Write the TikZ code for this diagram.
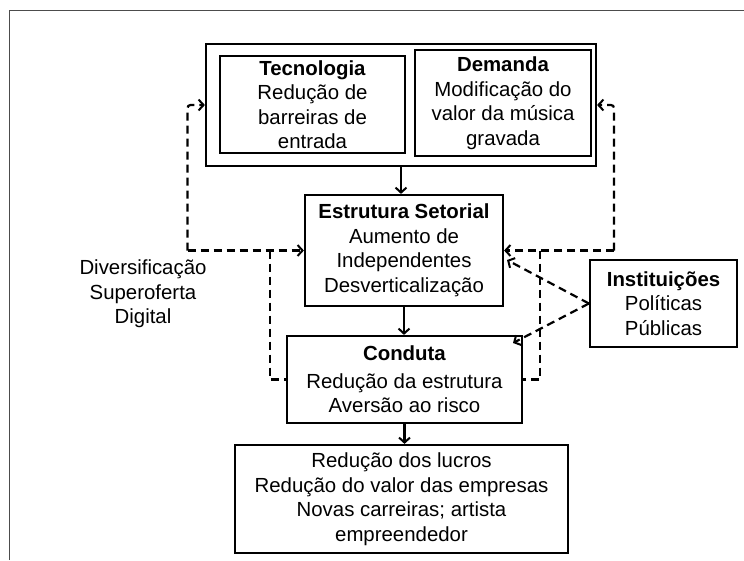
\documentclass[tikz,border=0pt]{standalone}
\usepackage{fontspec}
\setmainfont{Liberation Sans}
\usetikzlibrary{arrows.meta}
\begin{document}
\begin{tikzpicture}[x=1pt,y=-1pt,
  box/.style={draw,line width=2.2pt,rectangle,inner sep=0pt,align=center,
    font=\fontsize{20.4pt}{24.5pt}\selectfont},
  tip/.style={-{Straight Barb[length=5pt,width=11pt,line width=2pt]}},
  solidarrow/.style={line width=2.2pt,tip},
  dashline/.style={line width=2.2pt,dash pattern=on 8pt off 5pt},
  dasharrow/.style={dashline,tip},
  plain/.style={align=center,inner sep=0pt,font=\fontsize{20.4pt}{24.5pt}\selectfont}]
\useasboundingbox (0,0) rectangle (744,560);
\draw[line width=1.3pt,black!70] (9.5,560) -- (9.5,10.7) -- (744,10.7);
% boxes
\node[box,minimum width=390pt,minimum height=122pt] (outer) at (401,105) {};
\node[box,minimum width=185pt,minimum height=97pt] (tec) at (312.5,104.5)
  {\textbf{Tecnologia}\\Redução de\\barreiras de\\entrada};
\node[box,minimum width=176pt,minimum height=106pt] (dem) at (503,103)
  {\textbf{Demanda}\\Modificação do\\valor da música\\gravada};
\node[box,minimum width=198pt,minimum height=111pt] (est) at (404,250.5)
  {\textbf{Estrutura Setorial}\\Aumento de\\Independentes\\Desverticalização};
\node[box,minimum width=235pt,minimum height=87pt] (cond) at (404.5,379.5)
  {\textbf{Conduta}\\[3pt]Redução da estrutura\\Aversão ao risco};
\node[box,minimum width=147pt,minimum height=87pt] (inst) at (663.5,303.5)
  {\textbf{Instituições}\\Políticas\\Públicas};
\node[box,minimum width=333pt,minimum height=108pt] (res) at (401.5,499)
  {Redução dos lucros\\Redução do valor das empresas\\Novas carreiras; artista\\empreendedor};
\node[plain] (div) at (143,294) {Diversificação\\Superoferta\\Digital};
% solid arrows
\draw[solidarrow] (outer.south) -- (outer.south |- est.north);
\draw[solidarrow] (est.south) -- (est.south |- cond.north);
\draw[solidarrow] (cond.south) -- (cond.south |- res.north);
% dashed connectors
\coordinate (lc) at (187.5,250.5);
\coordinate (lc2) at (270,250.5);
\coordinate (rc) at (614,250.5);
\coordinate (rc2) at (540,250.5);
\draw[dasharrow,rounded corners=3pt] (lc) |- (outer.west);
\draw[dasharrow] (lc) -- (est.west);
\draw[dashline] (lc2) |- (cond.west);
\draw[dasharrow,rounded corners=3pt] (rc) |- (outer.east);
\draw[dasharrow] (rc) -- (est.east);
\draw[dashline] (rc2) |- (cond.east);
\coordinate (i1) at (507,260);
\coordinate (i2) at (513,343);
\draw[dasharrow] (inst.west) -- (i1);
\draw[dasharrow] (inst.west) -- (i2);
\end{tikzpicture}
\end{document}
